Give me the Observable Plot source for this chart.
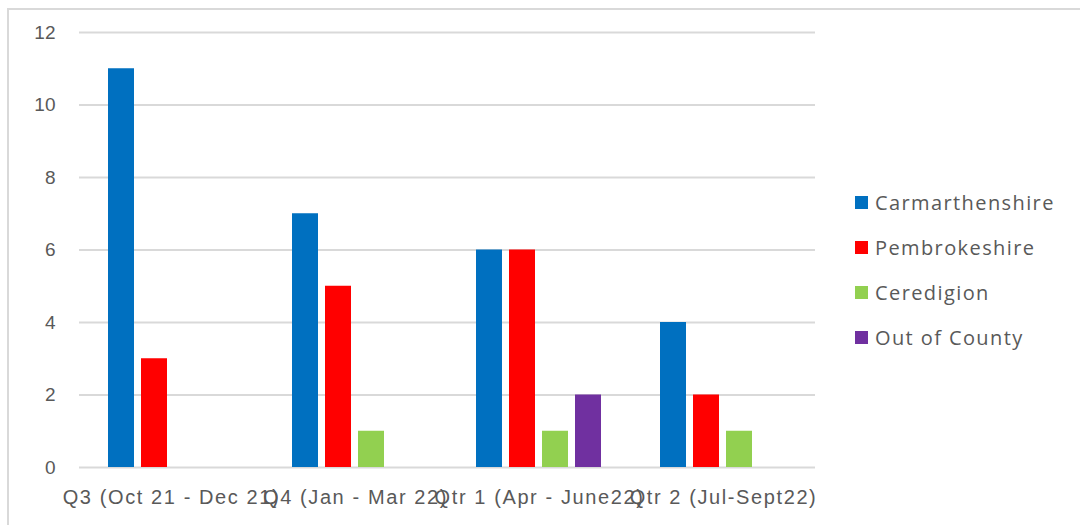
<!DOCTYPE html>
<html>
<head>
<meta charset="utf-8">
<script src="https://cdn.jsdelivr.net/npm/d3@7"></script>
<script src="https://cdn.jsdelivr.net/npm/@observablehq/plot@0.6"></script>
<style>
  html, body { margin: 0; padding: 0; width: 1080px; height: 525px; overflow: hidden; background: #fff; }
  #frame { position: absolute; left: 7px; top: 8px; width: 1200px; height: 600px; border: 2px solid #d9d9d9; box-sizing: border-box; }
  #chart { position: absolute; left: 0; top: 0; }
  #chart svg g[aria-label^="fx-axis"] text { letter-spacing: 1.6px; }
  #legend { position: absolute; left: 855px; top: 180px; font-family: "Open Sans", "Noto Sans", sans-serif; font-size: 20px; letter-spacing: 1.4px; color: #595959; }
  .item { display: flex; align-items: center; height: 45px; }
  .sw { width: 13px; height: 13px; margin-right: 7px; }
</style>
</head>
<body>
<div id="frame"></div>
<div id="chart"></div>
<div id="legend"></div>
<script>
const quarters = ["Q3 (Oct 21 - Dec 21)", "Q4 (Jan - Mar 22)", "Qtr 1 (Apr - June22)", "Qtr 2 (Jul-Sept22)"];
const seriesNames = ["Carmarthenshire", "Pembrokeshire", "Ceredigion", "Out of County"];
const seriesColors = ["#0070C0", "#FF0000", "#92D050", "#7030A0"];
const carmarthenshire = [11, 7, 6, 4];
const pembrokeshire = [3, 5, 6, 2];
const ceredigion = [0, 1, 1, 1];
const outOfCounty = [0, 0, 2, 0];
const yTicks = [0, 2, 4, 6, 8, 10, 12];

const seriesValues = [carmarthenshire, pembrokeshire, ceredigion, outOfCounty];
const data = [];
quarters.forEach((q, i) => {
  seriesNames.forEach((s, j) => {
    data.push({quarter: q, series: s, value: seriesValues[j][i]});
  });
});

const font = "'Liberation Sans', Arial, sans-serif";
const chart = Plot.plot({
  width: 830,
  height: 525,
  marginLeft: 78,
  marginRight: 15,
  marginTop: 32,
  marginBottom: 58,
  style: {fontFamily: font, fontSize: "19px", color: "#595959", background: "transparent"},
  fx: {domain: quarters, padding: 0, label: null, tickSize: 0, tickPadding: 22, axis: null},
  x: {domain: seriesNames, paddingInner: 0.2, paddingOuter: 0.842, axis: null},
  y: {domain: [0, 12], ticks: yTicks, label: null, tickSize: 0, tickPadding: 24},
  color: {domain: seriesNames, range: seriesColors},
  marks: [
    Plot.ruleY(yTicks, {stroke: "#d9d9d9", strokeWidth: 2}),
    Plot.barY(data.filter(d => d.value > 0), {fx: "quarter", x: "series", y: "value", fill: "series"}),
    Plot.axisFx({anchor: "bottom", tickSize: 0, tickPadding: 22, fontSize: 20, label: null}),
    Plot.axisY({ticks: yTicks, tickSize: 0, tickPadding: 24, fontSize: 19, label: null})
  ]
});
document.getElementById("chart").appendChild(chart);

const legend = document.getElementById("legend");
seriesNames.forEach((s, i) => {
  const it = document.createElement("div");
  it.className = "item";
  const sw = document.createElement("div");
  sw.className = "sw";
  sw.style.background = seriesColors[i];
  const t = document.createElement("span");
  t.textContent = s;
  it.appendChild(sw); it.appendChild(t);
  legend.appendChild(it);
});
</script>
</body>
</html>
